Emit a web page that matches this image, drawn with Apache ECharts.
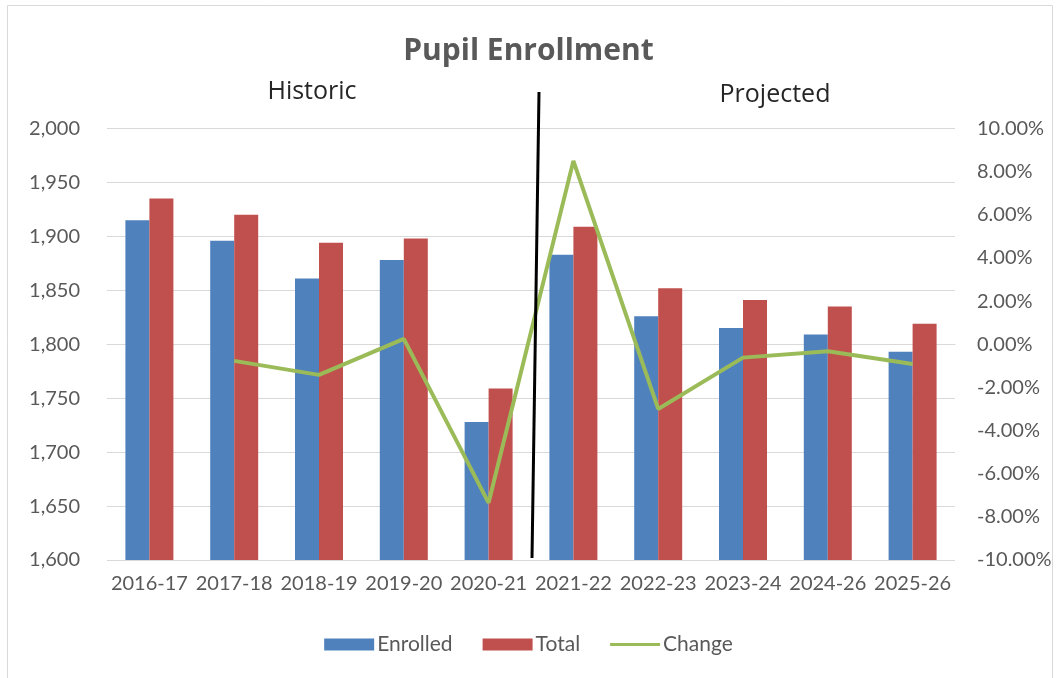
<!DOCTYPE html>
<html>
<head>
<meta charset="utf-8">
<script src="https://cdn.jsdelivr.net/npm/echarts@6/dist/echarts.min.js"></script>
<style>
  html, body { margin: 0; padding: 0; background: #fff; }
  #chart { width: 1057px; height: 678px; }
</style>
</head>
<body>
<div id="chart"></div>
<script>
var years = ['2016-17', '2017-18', '2018-19', '2019-20', '2020-21', '2021-22', '2022-23', '2023-24', '2024-26', '2025-26'];
var enrolled = [1915, 1896, 1861, 1878, 1728, 1883, 1826, 1815, 1809, 1793];
var total = [1935, 1920, 1894, 1898, 1759, 1909, 1852, 1841, 1835, 1819];
// percent change, none for the first year
var change = [null, -0.77, -1.42, 0.25, -7.35, 8.5, -3.0, -0.62, -0.32, -0.92];

var chart = echarts.init(document.getElementById('chart'));
var font = 'Lato';
// thin horizontal bar for the line legend; corner dots keep the box 50x12
var lineIcon = 'path://M0,0L0.01,0L0,0.01Z M0,4.5L50,4.5L50,7.5L0,7.5Z M50,12L49.99,12L50,11.99Z';

var option = {
  animation: false,
  textStyle: { fontFamily: font },
  title: {
    text: 'Pupil Enrollment',
    left: 'center',
    top: 31,
    textStyle: { fontSize: 30, fontWeight: 'bold', color: '#595959', fontFamily: 'Open Sans' }
  },
  grid: { left: 107, right: 102, top: 128.5, bottom: 118 },
  legend: {
    bottom: 18,
    left: 'center',
    itemWidth: 50,
    itemHeight: 12,
    itemGap: 30,
    textStyle: { fontSize: 21, color: '#595959', padding: [0, 0, 0, -2] },
    data: [
      { name: 'Enrolled', icon: 'rect' },
      { name: 'Total', icon: 'rect' },
      { name: 'Change', icon: lineIcon }
    ]
  },
  xAxis: {
    type: 'category',
    data: years,
    axisLine: { lineStyle: { color: '#d9d9d9' } },
    axisTick: { show: false },
    axisLabel: { fontSize: 20, color: '#595959', margin: 14, interval: 0 }
  },
  yAxis: [
    {
      type: 'value',
      min: 1600,
      max: 2000,
      interval: 50,
      axisLine: { show: false },
      axisTick: { show: false },
      splitLine: { lineStyle: { color: '#d9d9d9' } },
      axisLabel: {
        fontSize: 20, color: '#595959', margin: 27,
        formatter: function (v) { return v.toLocaleString('en-US'); }
      }
    },
    {
      type: 'value',
      min: -10,
      max: 10,
      interval: 2,
      axisLine: { show: false },
      axisTick: { show: false },
      splitLine: { show: false },
      axisLabel: {
        fontSize: 20, color: '#595959', margin: 22,
        formatter: function (v) { return v.toFixed(2) + '%'; }
      }
    }
  ],
  series: [
    {
      name: 'Enrolled',
      type: 'bar',
      data: enrolled,
      barWidth: 24,
      barGap: '0%',
      itemStyle: { color: '#4F81BD' }
    },
    {
      name: 'Total',
      type: 'bar',
      data: total,
      barWidth: 24,
      barGap: '0%',
      itemStyle: { color: '#C0504D' }
    },
    {
      name: 'Change',
      type: 'line',
      yAxisIndex: 1,
      data: change,
      symbol: 'none',
      lineStyle: { width: 4, color: '#9BBB59' },
      itemStyle: { color: '#9BBB59' }
    }
  ],
  graphic: [
    {
      type: 'rect',
      shape: { x: 7.5, y: 5.5, width: 1045, height: 700 },
      style: { fill: 'none', stroke: '#d9d9d9', lineWidth: 1 },
      silent: true
    },
    {
      type: 'text',
      x: 312, y: 92,
      style: { text: 'Historic', fontSize: 25, fill: '#262626', fontFamily: 'Open Sans', align: 'center', verticalAlign: 'middle' }
    },
    {
      type: 'text',
      x: 775, y: 95,
      style: { text: 'Projected', fontSize: 25, fill: '#262626', fontFamily: 'Open Sans', align: 'center', verticalAlign: 'middle' }
    },
    {
      type: 'line',
      shape: { x1: 539, y1: 92, x2: 532, y2: 558 },
      style: { stroke: '#000', lineWidth: 3 },
      z: 100
    }
  ]
};

chart.setOption(option);
</script>
</body>
</html>
